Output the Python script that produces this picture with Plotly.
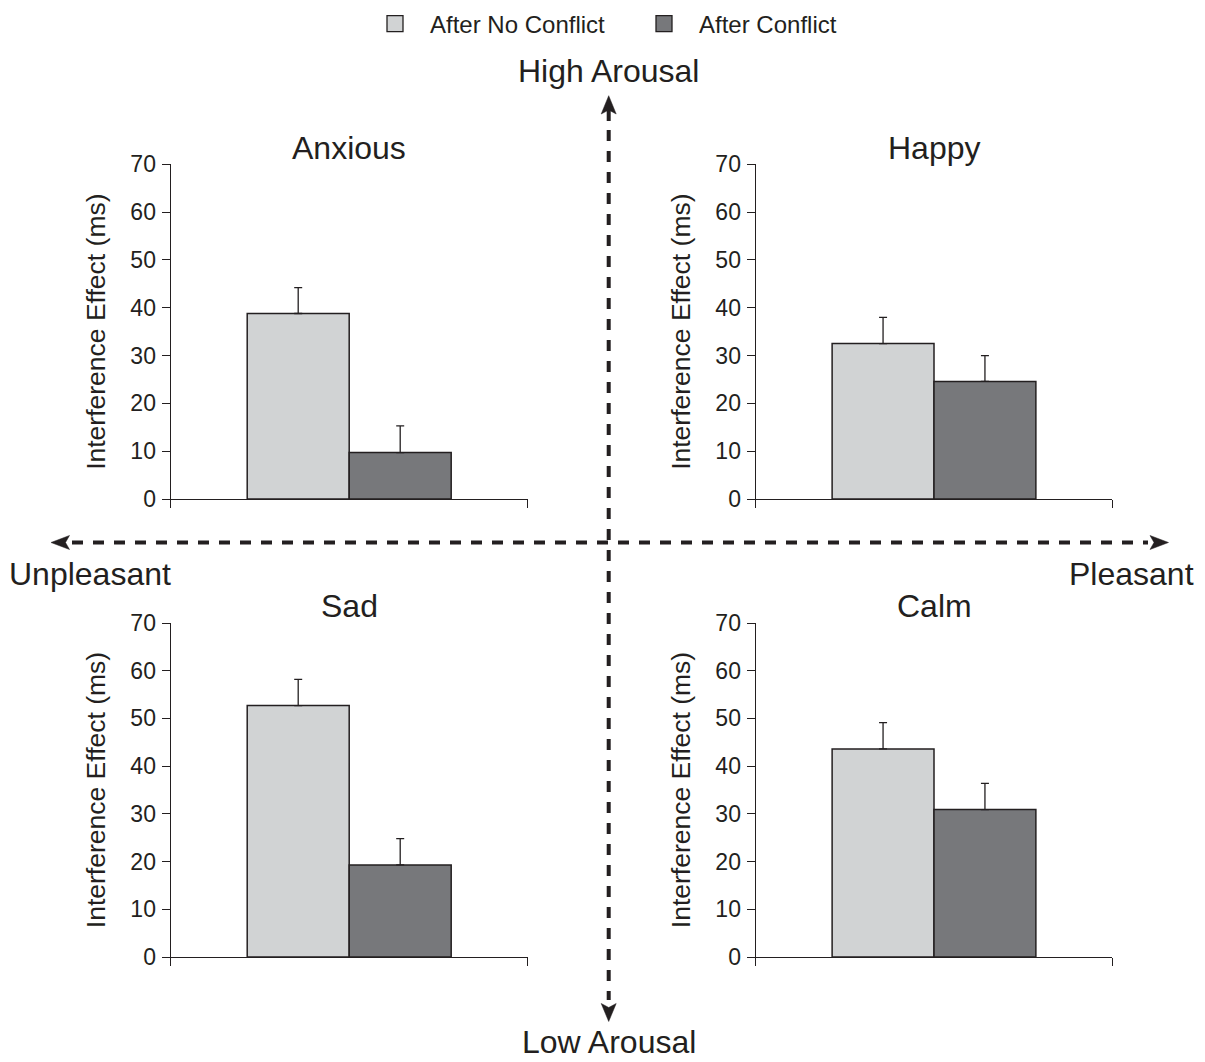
import plotly.graph_objects as go

# ---------------- data ----------------
emotions = ["Anxious", "Happy", "Sad", "Calm"]
conditions = ["After No Conflict", "After Conflict"]
no_conflict = [38.8, 32.5, 52.7, 43.6]
no_conflict_err = [5.4, 5.5, 5.5, 5.5]
conflict = [9.7, 24.6, 19.3, 30.9]
conflict_err = [5.6, 5.4, 5.5, 5.5]
y_ticks = [0, 10, 20, 30, 40, 50, 60, 70]
y_title = "Interference Effect (ms)"
dimension_labels = ["High Arousal", "Low Arousal", "Unpleasant", "Pleasant"]

# ---------------- style ----------------
W, H = 1205, 1062
OFF = 8  # page body margin offset compensation
INK = "#231f20"
LIGHT = "#d1d3d4"
DARK = "#77787b"
FONT = "Liberation Sans, Arial, Helvetica, sans-serif"
colors = [LIGHT, DARK]

def fx(x):
    return (x - OFF) / W

def fy(y):
    return 1 - (y - OFF) / H

# panel domains (reference pixels -> paper)
x_left = [fx(170.7), fx(527.7)]
x_right = [fx(755.7), fx(1112.3)]
y_top = [fy(499), fy(164.3)]
y_bot = [fy(957), fy(623)]
domains = [(x_left, y_top), (x_right, y_top), (x_left, y_bot), (x_right, y_bot)]
title_y = [148, 148, 606, 606]

fig = go.Figure()
BW = 0.2857

# legend entries (marker squares)
for j, cond in enumerate(conditions):
    fig.add_trace(go.Scatter(
        x=[None], y=[None], mode="markers", name=cond, showlegend=True,
        marker=dict(symbol="square", size=16, color=colors[j],
                    line=dict(color=INK, width=1.3)),
    ))

for i, emo in enumerate(emotions):
    n = i + 1
    xa = "x" if n == 1 else f"x{n}"
    ya = "y" if n == 1 else f"y{n}"
    for j, (vals, errs) in enumerate([(no_conflict, no_conflict_err),
                                      (conflict, conflict_err)]):
        fig.add_trace(go.Bar(
            x=[0], y=[vals[i]],
            name=conditions[j], showlegend=False,
            width=[BW], offset=[-BW if j == 0 else 0],
            marker=dict(color=colors[j], line=dict(color=INK, width=1.5)),
            error_y=dict(type="data", array=[errs[i]], arrayminus=[0], symmetric=False,
                         color=INK, thickness=1.3, width=4),
            xaxis=xa, yaxis=ya,
        ))
    xd, yd = domains[i]
    axkey = "xaxis" if n == 1 else f"xaxis{n}"
    aykey = "yaxis" if n == 1 else f"yaxis{n}"
    fig.update_layout({
        axkey: dict(domain=xd, anchor=ya, range=[-0.5, 0.5], tickmode="array",
                    tickvals=[-0.5, 0.5], ticks="outside", ticklen=8, tickwidth=1.3,
                    tickcolor=INK, showticklabels=False, showline=True, linecolor=INK,
                    linewidth=1.3, showgrid=False, zeroline=False, fixedrange=True,
                    automargin=False),
        aykey: dict(domain=yd, anchor=xa, range=[0, 70], tickmode="array",
                    tickvals=y_ticks, ticks="outside", ticklen=8, tickwidth=1.3,
                    tickcolor=INK, showline=True, linecolor=INK, linewidth=1.3,
                    showgrid=False, zeroline=False, ticklabelstandoff=1,
                    automargin=False, fixedrange=True,
                    tickfont=dict(size=23, color=INK, family=FONT),
                    title=dict(text=y_title, font=dict(size=26.5, color=INK, family=FONT),
                               standoff=17)),
    })
    fig.add_annotation(text=emo, xref=f"{xa} domain", yref="paper",
                       x=0.5, y=fy(title_y[i]), yanchor="middle", showarrow=False,
                       font=dict(size=32, color=INK, family=FONT))

# ---------------- affect axes (dashed arrows) ----------------
cx, cy = 608.7, 542.5
dash = "11px,10px"
shapes = [
    dict(type="line", xref="paper", yref="paper", x0=fx(cx), x1=fx(cx),
         y0=fy(130), y1=fy(1000), line=dict(color=INK, width=4, dash=dash)),
    dict(type="line", xref="paper", yref="paper", x0=fx(72), x1=fx(1148),
         y0=fy(cy), y1=fy(cy), line=dict(color=INK, width=4, dash=dash)),
    dict(type="line", xref="paper", yref="paper", x0=fx(cx), x1=fx(cx),
         y0=fy(108), y1=fy(121), line=dict(color=INK, width=4)),
]

def head(tip, back, half, notch):
    (tx, ty) = tip
    (bx, by) = back
    dx, dy = tx - bx, ty - by
    L = (dx * dx + dy * dy) ** 0.5
    ux, uy = dx / L, dy / L
    px_, py_ = -uy, ux
    c1 = (bx + px_ * half, by + py_ * half)
    c2 = (bx - px_ * half, by - py_ * half)
    nt = (bx + ux * notch, by + uy * notch)
    pts = [tip, c1, nt, c2]
    path = "M " + " L ".join(f"{fx(p[0]):.5f},{fy(p[1]):.5f}" for p in pts) + " Z"
    return dict(type="path", xref="paper", yref="paper", path=path,
                fillcolor=INK, line=dict(color=INK, width=0.5))

shapes += [
    head((cx, 95.7), (cx, 114), 7.5, 4),
    head((cx, 1021.5), (cx, 1003.5), 7.5, 4),
    head((1168.5, cy), (1150, cy), 7, 4),
    head((51, cy), (69.5, cy), 7, 4),
]
fig.update_layout(shapes=shapes)

lab_font = dict(size=32, color=INK, family=FONT)
fig.add_annotation(text=dimension_labels[0], xref="paper", yref="paper", x=fx(cx), y=fy(71),
                   xanchor="center", yanchor="middle", showarrow=False, font=lab_font)
fig.add_annotation(text=dimension_labels[1], xref="paper", yref="paper", x=fx(cx), y=fy(1042),
                   xanchor="center", yanchor="middle", showarrow=False, font=lab_font)
fig.add_annotation(text=dimension_labels[2], xref="paper", yref="paper", x=fx(7), y=fy(574),
                   xanchor="left", yanchor="middle", showarrow=False, font=lab_font)
fig.add_annotation(text=dimension_labels[3], xref="paper", yref="paper", x=fx(1196), y=fy(574),
                   xanchor="right", yanchor="middle", showarrow=False, font=lab_font)

fig.update_layout(
    width=W, height=H,
    margin=dict(l=0, r=0, t=0, b=0, autoexpand=False),
    paper_bgcolor="white", plot_bgcolor="rgba(0,0,0,0)",
    barmode="overlay",
    font=dict(family=FONT, color=INK),
    legend=dict(orientation="h", x=fx(360), xanchor="left", y=fy(24), yanchor="middle",
                font=dict(size=24, color=INK, family=FONT), itemwidth=60,
                entrywidth=194, entrywidthmode="pixels",
                bgcolor="rgba(0,0,0,0)", traceorder="normal"),
    showlegend=True,
)

fig.write_html("out.html")
